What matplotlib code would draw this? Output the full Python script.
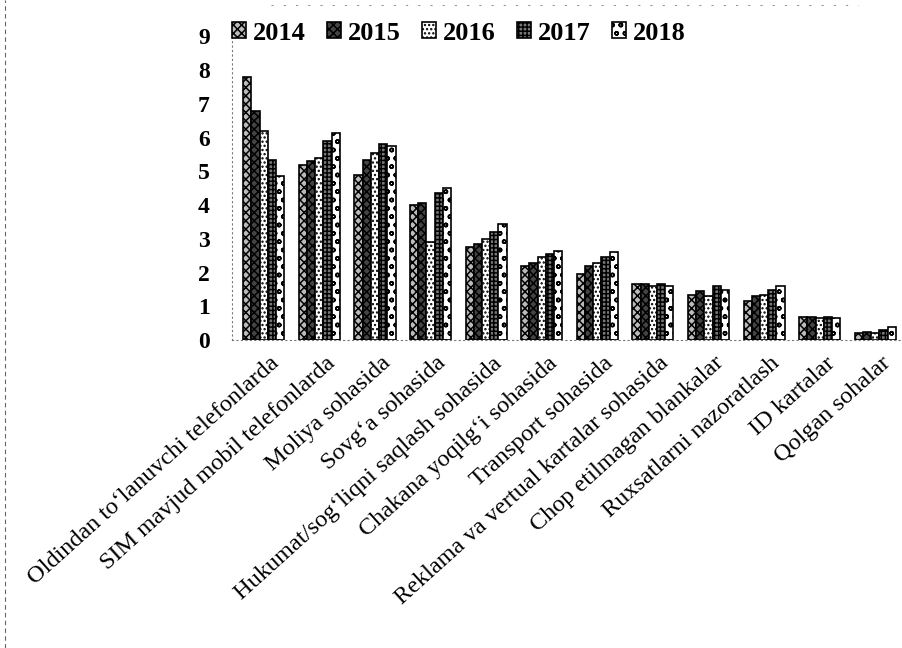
import matplotlib
matplotlib.use("Agg")
import matplotlib.pyplot as plt
import numpy as np

categories = [
    "Oldindan to\u2018lanuvchi telefonlarda",
    "SIM mavjud mobil telefonlarda",
    "Moliya sohasida",
    "Sovg\u2018a sohasida",
    "Hukumat/sog\u2018liqni saqlash sohasida",
    "Chakana yoqilg\u2018i sohasida",
    "Transport sohasida",
    "Reklama va vertual kartalar sohasida",
    "Chop etilmagan blankalar",
    "Ruxsatlarni nazoratlash",
    "ID kartalar",
    "Qolgan sohalar",
]
years = ["2014", "2015", "2016", "2017", "2018"]
v2014 = [7.8, 5.2, 4.9, 4.0, 2.75, 2.2, 1.95, 1.65, 1.35, 1.15, 0.7, 0.2]
v2015 = [6.8, 5.3, 5.35, 4.05, 2.85, 2.3, 2.2, 1.65, 1.45, 1.3, 0.7, 0.25]
v2016 = [6.2, 5.4, 5.55, 2.9, 3.0, 2.45, 2.3, 1.6, 1.3, 1.35, 0.65, 0.2]
v2017 = [5.35, 5.9, 5.8, 4.35, 3.2, 2.55, 2.45, 1.65, 1.6, 1.5, 0.7, 0.3]
v2018 = [4.85, 6.15, 5.75, 4.5, 3.45, 2.65, 2.6, 1.6, 1.5, 1.6, 0.65, 0.38]
yticks = [0, 1, 2, 3, 4, 5, 6, 7, 8, 9]

series = [v2014, v2015, v2016, v2017, v2018]
hatches = ["xxxx", "XXXX", "....", "++++", "oo"]
faces = ["#bbbbbb", "#444444", "white", "#777777", "white"]

plt.rcParams["font.family"] = ["Liberation Serif", "DejaVu Serif"]
plt.rcParams["hatch.linewidth"] = 1.1

fig = plt.figure(figsize=(9.03, 6.48), dpi=100)
ax = fig.add_axes([0.257, 0.475, 0.74, 0.469])

x = np.arange(len(categories))
w = 0.148
for i, (yr, vals) in enumerate(zip(years, series)):
    ax.bar(x + (i - 2) * w, vals, width=w, facecolor=faces[i], edgecolor="black",
           hatch=hatches[i], linewidth=1.2, label=yr)

ax.set_ylim(0, 9)
ax.set_xlim(-0.57, 11.45)
ax.set_yticks(yticks)
ax.set_yticklabels([str(t) for t in yticks], fontsize=17, fontweight="bold")
ax.tick_params(axis="y", length=0, pad=16)
ax.tick_params(axis="x", length=0, pad=9)
ax.set_xticks(x + 0.1)
ax.set_xticklabels(categories, rotation=42, ha="right", rotation_mode="anchor", fontsize=17.5)

for s in ["top", "right"]:
    ax.spines[s].set_visible(False)
ax.spines["left"].set_linestyle((0, (1, 3)))
ax.spines["left"].set_color("#777777")
ax.spines["bottom"].set_linestyle((0, (1, 3)))
ax.spines["bottom"].set_color("#777777")

leg = ax.legend(loc="center left", bbox_to_anchor=(-0.036, 1.01), ncol=5, frameon=False,
                handlelength=0.55, handleheight=0.55, handletextpad=0.25,
                columnspacing=0.8, prop={"size": 19, "weight": "bold"})

# scan artifacts: dashed border on the left and dotted line at top
fig.add_artist(plt.Line2D([0.006, 0.006], [0.0, 1.0], transform=fig.transFigure,
                          color="#666666", linestyle=(0, (4, 3)), linewidth=0.8))
fig.add_artist(plt.Line2D([0.3, 0.95], [0.993, 0.993], transform=fig.transFigure,
                          color="#999999", linestyle=(0, (2, 9)), linewidth=0.8))

fig.savefig("out.png", dpi=100)
